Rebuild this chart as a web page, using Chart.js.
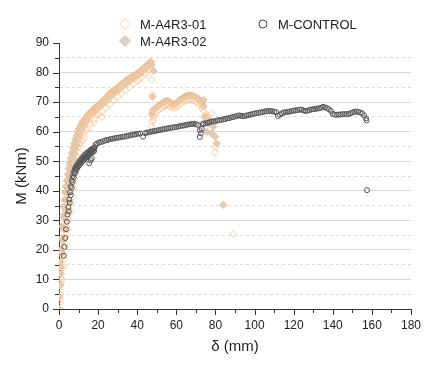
<!DOCTYPE html>
<html>
<head>
<meta charset="utf-8">
<script src="https://cdn.jsdelivr.net/npm/chart.js@4"></script>
<style>
  body { margin: 0; background: #fff; }
</style>
</head>
<body>
<canvas id="momentChart" width="444" height="370"></canvas>
<script>
  // M (kNm) vs delta (mm), points as [delta, M]
  const ctrlPts = [
    [2.4,18],[2.8,21],[3.2,24],[3.6,27],[4,29.5],[4.4,32],[4.8,34.5],[5.2,37],[5.6,39.5],[6,41.5],
    [6.5,43.5],[7,45],[7.5,46.2],[8,47.2],[8.5,47.9],[9,48.5],[9.5,49],[10,49.5],[10.5,50],
    [11,50.4],[11.5,50.8],[12,51.2],[12.5,51.6],[13,52],[13.5,52.3],[14,52.6],[14.5,52.9],
    [15,53.2],[15.5,53.4],[16,53.7],[16.5,53.9],[17,54.1],[17.5,54.3],[18,54.5],[18.3,54.7],
    [5,33],[5.5,36],[6,38.5],[6.5,41],[7,43],[7.5,44.5],[8,45.8],[8.5,46.7],[9,47.3],[9.5,47.9],
    [10,48.4],[10.5,48.8],[11,49.2],[11.5,49.6],[12,50],[12.5,50.4],[13,50.8],[13.5,51.1],
    [14,51.4],[14.5,51.7],[15,52],[15.5,52.3],[16,52.6],[16.5,52.8],[17,53],[17.5,53.3],[18,53.5],
    [15.4,49.3],[16.2,50.3],[16.8,51],
    [18.8,55.6],[19.5,56],[20.5,56.3],[21.5,56.5],[22.5,56.7],[23.5,57],[24.5,57.2],[25.5,57.3],
    [26.5,57.5],[27.5,57.6],[28.5,57.8],[29.5,57.9],[30.5,58],[31.5,58.1],[32.5,58.3],[33.5,58.3],
    [34.5,58.5],[35.5,58.6],[36.5,58.8],[37.5,59],[38.5,59],[39.5,59.2],[40.5,59.3],[41.5,59.4],
    [43,58.3],[44,59.5],[45,59.7],[46,59.8],[47,60],[48,60.1],[49,60.2],[50,60.4],[51,60.5],
    [52,60.6],[53,60.8],[54,60.9],[55,61],[56,61.2],[57,61.3],[58,61.4],[59,61.5],[60,61.6],
    [61,61.7],[62,61.9],[63,62],[64,62.1],[65,62.3],[66,62.4],[67,62.5],[68,62.6],[69,62.7],
    [70,62.5],[71,62.3],[72,60.5],[72,58.2],[72.5,59.5],[73,61],[73.5,62.5],[74,62.8],[75,62.8],
    [76,63],[77,63.2],[78,63.4],[79,63.5],[80,63.6],[81,63.8],[82,63.9],[83,64],[84,64.2],
    [85,64.3],[86,64.5],[87,64.6],[88,64.8],[89,65],[90,65.1],[91,65.3],[92,65.5],[93,65.4],
    [94,65.2],[95,65.3],[96,65.5],[97,65.6],[98,65.8],[99,66],[100,66.1],[101,66.3],[102,66.4],
    [103,66.5],[104,66.6],[105,66.8],[106,66.9],[107,67],[108,67],[109,66.9],[110,66.8],
    [111,66.6],[112,65.3],[113,65.8],[114,66.2],[115,66.5],[116,66.6],[117,66.7],[118,66.8],
    [119,67],[120,67.1],[121,67.2],[122,67.3],[123,67.4],[124,67.5],[125,67.2],[126,67],
    [127,67.1],[128,67.3],[129,67.5],[130,67.6],[131,67.7],[132,67.8],[133,67.9],[134,68.1],
    [135,68.4],[136,68.2],[137,68],[138,67.6],[139,67],[140,66],[141,65.8],[142,65.7],[143,65.8],
    [144,65.8],[145,65.9],[146,66],[147,65.9],[148,66],[149,66.2],[150,66.5],[151,66.7],
    [152,66.8],[153,66.7],[154,66.5],[155,66.2],[156,65.5],[157,64.5],[157.3,63.8],[157.5,40.2]
  ];

  const a01Pts = [
    [0.3,0],[0.4,2],[0.5,3],[0.6,5],[0.7,6],[0.8,8],[0.9,9],[1.0,10.5],[1.2,12],[1.5,15],
    [1.9,18],[2.3,21],[2.7,24],[3.1,27],[3.5,30],[4,33],[4.5,36],[5,39],[5.6,42],[6.2,45],
    [6.9,48],[7.6,51],[8.4,54],[9.2,56.5],[10.1,58.8],[11,60.6],[12,62],[13,63.2],[14,64.2],
    [15,65],[16,65.8],[17,66.5],[18,67.1],[19,67.7],[20,68.3],[21,68.9],[22,69.5],[23,70.1],
    [24,70.7],[25,71.3],[26,72],[27,72.6],[28,73.2],[29,73.7],[30,74.2],[31,74.7],[32,75.2],
    [33,75.7],[34,76.2],[35,76.8],[36,77.3],[37,77.8],[38,78.3],[39,78.8],[40,79.3],[41,79.8],
    [42,80.3],[43,80.8],[44,81.3],[45,81.8],[46,82.3],[47,82.8],[47.4,77.5],[47.6,72.5],
    [48,67.3],[48.2,64],
    [1.5,10],[2,14],[2.5,17],[3,20],[3.5,22],[4,25],[4.5,27],[5,30],[6,33],[6.5,36],[7,38],
    [7.5,41],[8,44],[8.5,46],[9,49],[9.5,51],[10,53],[10.5,55],[11,56],[12,57],[12.5,59],[13,58],
    [15,61],[18,63],[22,65],[20,66.5],
    [14,60.5],[16,62.5],[18,64.2],[20,65.6],[22,66.8],[24,68],[26,69.4],[28,70.7],[30,71.8],
    [32,73],[34,74],[36,75],[38,76.2],[40,77.2],[41,77.5],[42,78.3],[44,79.3],[44,80],[46,80.5],
    [47.3,61.8],[47.6,63.5],[48,65],[49,66],[50,66.8],[51,67.3],[52,67.8],[53,68.3],[54,68.7],
    [55,69],[56,68.8],[57,68.4],[58,68.1],[59,68],[60,68.3],[61,68.8],[62,69.3],[63,69.8],
    [64,70.2],[65,70.5],[66,70.7],[67,70.8],[68,70.7],[69,70.5],[70,70.1],[71,69.6],[72,68.9],
    [73,68],[74,67],[75,65.8],[76,64.5],[77,63.6],[78,66.2],[79,63],[79.8,52.9],[80.3,55],
    [89.1,25.4]
  ];

  const a02Pts = [
    [0,0],[0.2,4],[0.4,8],[0.6,12],[0.8,16],[1,20],[1.3,24],[1.6,28],[2,31.5],[2.4,34.5],
    [2.8,37],[3.2,39.5],[3.6,41.5],[4,43.5],[4.5,45.5],[5,47.5],[5.5,49.2],[6,51],[6.6,52.8],
    [7.2,54.5],[7.8,56],[8.4,57.4],[9,58.7],[9.6,59.9],[10.3,61],[11,62],[11.8,63],[12.6,63.8],
    [13.5,64.6],[14.5,65.4],[15.5,66.2],[16.5,66.9],[17.5,67.5],[18.5,68.1],[19.5,68.7],
    [20.5,69.3],[21.5,69.9],[22.5,70.5],[23.5,71.1],[24.5,71.8],[25.5,72.6],[26.5,73.2],
    [27.5,73.7],[28.5,74.2],[29.5,74.7],[30.5,75.2],[31.5,75.7],[32.5,76.3],[33.5,76.9],
    [34.5,77.4],[35.5,77.9],[36.5,78.3],[37.5,78.7],[38.5,79.1],[39.5,79.5],[40.5,80],
    [41.5,80.5],[42.5,81],[43.5,81.6],[44.5,82.2],[45.5,82.8],[46.3,83.3],[47,83.6],
    [1,14],[1.5,19],[2,23],[2.5,27],[3,30.5],[3.5,33.5],[4,36.5],[4.5,39],[5,41.5],[5.5,43.5],
    [6,45.5],[6.5,47.5],[7,49.3],[7.5,51],[8,52.5],[8.5,54],[9,55.3],[9.5,56.6],[10,57.8],
    [10.8,59.3],[11.6,60.6],[12.4,61.8],[13.2,62.8],[14,63.6],[15,64.5],[16,65.3],[17,66],
    [18,66.7],[19,67.3],[20,67.9],[21,68.5],[22,69.1],[23,69.7],[24,70.3],[25,71],[26,71.7],
    [27,72.3],[28,72.9],[29,73.4],[30,73.9],[31,74.4],[32,75],[33,75.6],[34,76.1],[35,76.6],
    [36,77.1],[37,77.6],[38,78],[39,78.5],[40,79],[41,79.5],[42,80],[43,80.6],[44,81.2],
    [45,81.8],[46,82.4],
    [47.3,82.7],[48.3,80.5],[47.8,71.8],
    [47.5,66],[48,67],[49,67.8],[50,68.3],[51,68.8],[52,69.3],[53,69.8],[54,70.2],[55,70.5],
    [56,70.3],[57,69.8],[58,69.4],[59,69.3],[60,69.6],[61,70.2],[62,70.8],[63,71.3],[64,71.7],
    [65,72],[66,72.2],[67,72.3],[68,72.2],[69,72],[70,71.7],[71,71.2],[72,70.5],[73,69.5],
    [73.8,70.7],[74,68.5],[74.6,65],[75.5,65],[75.5,60],[76.3,62.8],[77.2,63.4],[78,59.4],
    [78.9,61.7],[79.8,58.3],[80.6,56],[84,35.2]
  ];

  const toXY = pts => pts.map(p => ({ x: p[0], y: p[1] }));

  const FONT = "Arial, 'Liberation Sans', sans-serif";
  const TXT = '#222';

  // legend drawn by hand (two columns like the original)
  const legendItems = [
    { text: 'M-A4R3-01', shape: 'diamond', stroke: '#F7C594', fill: null, x: 125, y: 24 },
    { text: 'M-A4R3-02', shape: 'diamond', stroke: '#F3BE8C', fill: '#D3D3D3', x: 125, y: 41 },
    { text: 'M-CONTROL', shape: 'circle', stroke: '#444', fill: null, x: 263, y: 24 }
  ];

  const customDraw = {
    id: 'customDraw',
    afterDraw(chart) {
      const c = chart.ctx;
      const area = chart.chartArea;
      const xs = chart.scales.x, ys = chart.scales.y;
      c.save();
      // outward tick marks, major and minor
      c.strokeStyle = '#333';
      c.lineWidth = 1;
      c.beginPath();
      for (let v = 0; v <= 90; v += 5) {
        const py = Math.round(ys.getPixelForValue(v)) + 0.5;
        const len = v % 10 === 0 ? 6 : 4;
        c.moveTo(area.left - len, py);
        c.lineTo(area.left, py);
      }
      for (let v = 0; v <= 180; v += 10) {
        const px = Math.round(xs.getPixelForValue(v)) + 0.5;
        const len = v % 20 === 0 ? 6 : 4;
        c.moveTo(px, area.bottom);
        c.lineTo(px, area.bottom + len);
      }
      c.stroke();

      // legend
      c.font = '13px ' + FONT;
      c.textBaseline = 'middle';
      c.textAlign = 'left';
      legendItems.forEach(it => {
        c.beginPath();
        if (it.shape === 'diamond') {
          const r = 5.5;
          c.moveTo(it.x, it.y - r);
          c.lineTo(it.x + r, it.y);
          c.lineTo(it.x, it.y + r);
          c.lineTo(it.x - r, it.y);
          c.closePath();
        } else {
          c.arc(it.x, it.y, 4, 0, Math.PI * 2);
        }
        if (it.fill) { c.fillStyle = it.fill; c.fill(); }
        c.strokeStyle = it.stroke;
        c.lineWidth = 1;
        c.stroke();
        c.fillStyle = TXT;
        c.fillText(it.text, it.x + 15, it.y + 1);
      });
      c.restore();
    }
  };

  new Chart(document.getElementById('momentChart').getContext('2d'), {
    type: 'scatter',
    data: {
      datasets: [
        {
          label: 'M-A4R3-01',
          data: toXY(a01Pts),
          pointStyle: 'rectRot',
          pointRadius: 3.5,
          borderWidth: 1,
          borderColor: '#F9C99B',
          backgroundColor: 'rgba(255,255,255,0)',
          order: 1
        },
        {
          label: 'M-A4R3-02',
          data: toXY(a02Pts),
          pointStyle: 'rectRot',
          pointRadius: 3.5,
          borderWidth: 1,
          borderColor: '#F0B47C',
          backgroundColor: '#D6D0CA',
          order: 2
        },
        {
          label: 'M-CONTROL',
          data: toXY(ctrlPts),
          pointStyle: 'circle',
          pointRadius: 2.5,
          borderWidth: 1,
          borderColor: '#555',
          backgroundColor: 'rgba(255,255,255,0)',
          order: 0
        }
      ]
    },
    options: {
      responsive: false,
      animation: false,
      layout: { padding: { top: 43, right: 33, left: 0, bottom: 0 } },
      plugins: {
        legend: { display: false },
        tooltip: { enabled: false }
      },
      scales: {
        x: {
          type: 'linear',
          min: 0,
          max: 180,
          afterFit: s => { s.height = 61; },
          ticks: {
            stepSize: 10,
            autoSkip: false,
            maxRotation: 0,
            padding: 9,
            color: TXT,
            font: { family: FONT, size: 12 },
            callback: v => (v % 20 === 0 ? v : '')
          },
          grid: { drawOnChartArea: false, drawTicks: false },
          border: { display: true, color: '#333', width: 1 },
          title: {
            display: true,
            text: 'δ (mm)',
            color: TXT,
            font: { family: FONT, size: 15 },
            padding: { top: 0, bottom: 14 }
          }
        },
        y: {
          type: 'linear',
          min: 0,
          max: 90,
          afterFit: s => { s.width = 59; },
          ticks: {
            stepSize: 5,
            autoSkip: false,
            padding: 10,
            color: TXT,
            font: { family: FONT, size: 12 },
            callback: v => (v % 10 === 0 ? v : '')
          },
          grid: {
            drawTicks: false,
            color: ctx => (ctx.tick && (ctx.tick.value === 0 || ctx.tick.value === 90)) ? 'rgba(0,0,0,0)' : '#DADADA',
            lineWidth: 1
          },
          border: {
            display: true,
            color: '#333',
            width: 1,
            dash: ctx => (ctx.tick && ctx.tick.value % 10 !== 0) ? [3, 3] : []
          },
          title: {
            display: true,
            text: 'M (kNm)',
            color: TXT,
            font: { family: FONT, size: 15 },
            padding: { top: 13, bottom: 0 }
          }
        }
      }
    },
    plugins: [customDraw]
  });
</script>
</body>
</html>
